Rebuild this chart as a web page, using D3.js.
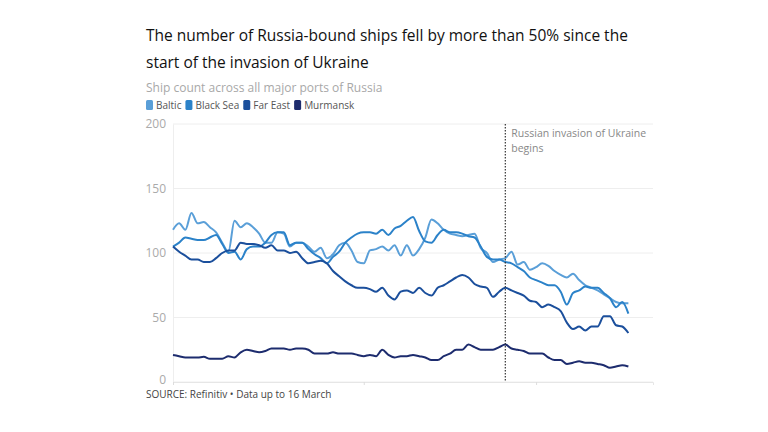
<!DOCTYPE html>
<html>
<head>
<meta charset="utf-8">
<script src="https://cdn.jsdelivr.net/npm/d3@7"></script>
<style>
  html, body { margin: 0; padding: 0; background: #fff; }
  svg { display: block; }
  text { font-family: "Open Sans", "Noto Sans", sans-serif; }
</style>
</head>
<body>
<svg id="chart" width="768" height="432"></svg>
<script>
const seriesNames = ["Baltic", "Black Sea", "Far East", "Murmansk"];
const seriesColors = ["#5a9fd8", "#2b82c9", "#1b4f9c", "#1d2c6e"];
const startDate = new Date(2022, 0, 1);
const endDate = new Date(2022, 2, 16);
const axisEnd = new Date(2022, 2, 20);
const invasionDate = new Date(2022, 1, 24);
const yTicks = [0, 50, 100, 150, 200];

const baltic = [118,123,118,131,123,124,120,116,108,101,125,120,123,120,115,108,108,116,115,105,108,108,105,101,104,96,99,106,108,102,93,92,102,103,105,102,106,98,106,98,103,112,126,123,118,115,114,113,114,115,104,100,93,95,96,101,91,93,87,89,92,90,86,83,81,84,79,75,73,71,68,65,62,61,61];
const blackSea = [105,108,112,111,110,110,112,114,107,100,101,95,103,105,105,108,114,116,116,106,108,108,103,99,96,92,97,101,108,112,115,116,116,115,118,114,119,121,125,128,117,109,108,114,118,116,116,115,113,112,105,97,95,95,93,92,89,86,81,79,77,75,75,70,60,69,71,74,73,73,69,65,58,62,53];
const farEast = [105,101,98,95,95,93,93,96,100,102,102,108,107,107,106,104,106,102,102,100,101,96,92,93,94,92,86,82,78,75,73,73,72,70,73,67,64,70,71,69,73,69,67,73,75,78,81,83,81,76,74,73,66,70,73,71,69,67,63,62,58,60,58,55,46,41,43,40,43,43,51,51,44,43,38];
const murmansk = [21,20,19,19,19,19.5,18,18,18,20,19,23,25,24,23,24,26,26,26,25,26,26,25,22,22,22,23,22,22,22,21,20,21,20,25,21,19,20,20,21,20,19,17,17,20,22,25,25,29,27,25,25,25,27,29,26,25,24,22,22,22,19,17,17,14,15,16,15,15,14,13,11,12,13,12];

const dates = d3.timeDay.range(startDate, d3.timeDay.offset(endDate, 1));
const allSeries = [baltic, blackSea, farEast, murmansk];

const svg = d3.select("#chart");
const margin = { left: 173, right: 115, top: 124, bottom: 50 };
const W = 768, H = 432;

const x = d3.scaleTime().domain([startDate, axisEnd]).range([margin.left, W - margin.right]);
const y = d3.scaleLinear().domain([0, 200]).range([H - margin.bottom, margin.top]);

// Title
const title = svg.append("g");
title.append("text").attr("x", 146).attr("y", 41)
  .attr("font-size", 15.5).attr("fill", "#111").attr("font-weight", 500)
  .text("The number of Russia-bound ships fell by more than 50% since the");
title.append("text").attr("x", 146).attr("y", 68)
  .attr("font-size", 15.5).attr("fill", "#111").attr("font-weight", 500)
  .text("start of the invasion of Ukraine");
svg.append("text").attr("x", 146).attr("y", 92)
  .attr("font-size", 12).attr("fill", "#a8a8a8")
  .text("Ship count across all major ports of Russia");

// Legend
const legend = svg.append("g").attr("transform", "translate(146,100)");
let lx = 0;
seriesNames.forEach((name, i) => {
  const g = legend.append("g").attr("transform", `translate(${lx},0)`);
  g.append("rect").attr("width", 7).attr("height", 10).attr("rx", 1.5)
    .attr("fill", seriesColors[i]);
  const t = g.append("text").attr("x", 10).attr("y", 9)
    .attr("font-size", 10).attr("fill", "#555").text(name);
  lx += 10 + t.node().getComputedTextLength() + 4;
});

// Grid
svg.append("g").selectAll("line").data(yTicks).join("line")
  .attr("x1", margin.left).attr("x2", W - margin.right)
  .attr("y1", d => y(d)).attr("y2", d => y(d))
  .attr("stroke", "#eeeeee").attr("stroke-width", 1);

// Y axis
const yAxis = svg.append("g").attr("transform", `translate(${margin.left},0)`)
  .call(d3.axisLeft(y).tickValues(yTicks).tickSize(0).tickPadding(7));
yAxis.select(".domain").attr("stroke", "#eeeeee");
yAxis.selectAll("text").attr("font-size", 12).attr("fill", "#aaaaaa")
  .attr("font-family", "'Open Sans', sans-serif");
yAxis.selectAll(".tick").filter(d => d === 0).select("text").attr("dy", "0.1em");

// X axis (ticks only)
const xAxis = svg.append("g").attr("transform", `translate(0,${y(0)})`)
  .call(d3.axisBottom(x).tickValues([new Date(2022,0,1), new Date(2022,1,1), new Date(2022,2,1)])
    .tickSize(3).tickFormat(""));
xAxis.select(".domain").attr("stroke", "#e6e6e6");
xAxis.selectAll(".tick line").attr("stroke", "#dddddd");

// Lines
const line = d3.line()
  .x((d, i) => x(dates[i]))
  .y(d => y(d))
  .curve(d3.curveMonotoneX);

svg.append("g").selectAll("path").data(allSeries).join("path")
  .attr("d", d => line(d))
  .attr("fill", "none")
  .attr("stroke", (d, i) => seriesColors[i])
  .attr("stroke-width", 2)
  .attr("stroke-linejoin", "round");

// Invasion marker
svg.append("line")
  .attr("x1", x(invasionDate)).attr("x2", x(invasionDate))
  .attr("y1", y(200)).attr("y2", y(0))
  .attr("stroke", "#333").attr("stroke-width", 1.2)
  .attr("stroke-dasharray", "1.5,1.5");
svg.append("text").attr("x", x(invasionDate) + 6).attr("y", 137)
  .attr("font-size", 10.5).attr("fill", "#888").text("Russian invasion of Ukraine");
svg.append("text").attr("x", x(invasionDate) + 6).attr("y", 152)
  .attr("font-size", 10.5).attr("fill", "#888").text("begins");

// Source
svg.append("text").attr("x", 146).attr("y", 398)
  .attr("font-size", 10).attr("fill", "#444")
  .text("SOURCE: Refinitiv \u2022 Data up to 16 March");
</script>
</body>
</html>
